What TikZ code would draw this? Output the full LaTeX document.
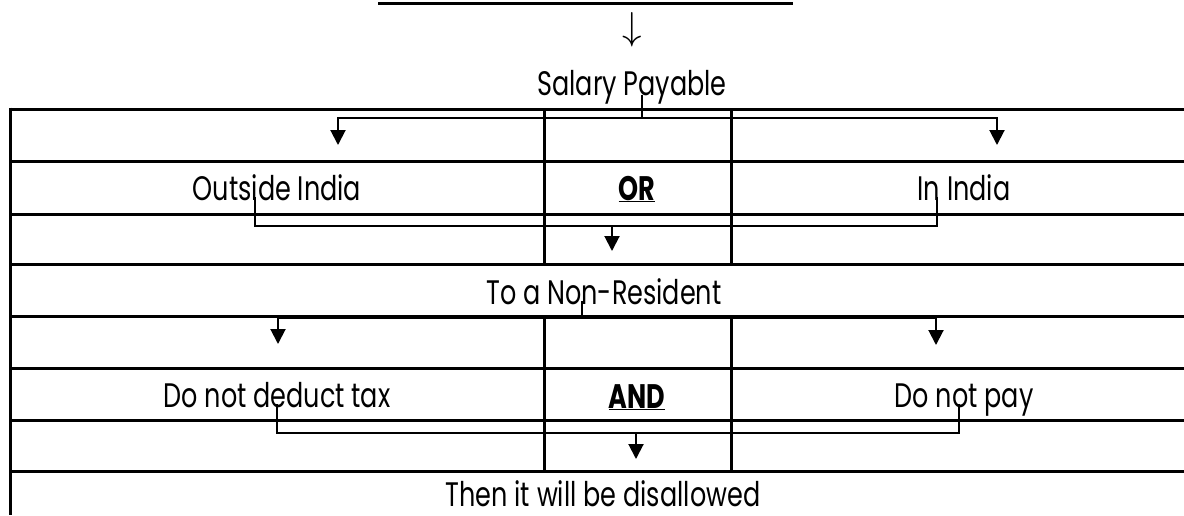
\documentclass[tikz,border=0pt]{standalone}
\usepackage{fontspec}
\setmainfont{Poppins}[FakeStretch=0.75]
\usetikzlibrary{arrows.meta,calc,positioning}

\begin{document}
\begin{tikzpicture}[x=1pt,y=-1pt,font=\fontsize{34}{36}\selectfont]
\tikzstyle{txt}=[inner sep=0pt,anchor=base]
\tikzstyle{rule}=[line width=3pt]
\tikzstyle{link}=[line width=2pt]
\tikzstyle{fork}=[link,-{Triangle[width=15pt,length=15pt]}]

\useasboundingbox (0,0) rectangle (1184,515);

\draw[rule] (378,3) -- (793,3);
\node[inner sep=0pt] (down) at (632,30) {\fontsize{10}{10}\selectfont\scalebox{3.9}{$\downarrow$}};

\draw[rule] (10,109) -- (1184,109);
\draw[rule] (10,107.5) -- (10,515);
\foreach \y in {161,214,264,316,368,420,471}
  \draw[rule] (10,\y) -- (1184,\y);
\foreach \x in {544,731} {
  \draw[rule] (\x,109) -- (\x,264);
  \draw[rule] (\x,316) -- (\x,471);
}

\node[txt] (salary) at (632,95) {Salary Payable};
\node[txt] (outside) at (277,200) {Outside India};
\node[txt] (or) at (637,200) {\bfseries\underline{OR}};
\node[txt] (inindia) at (964,200) {In India};
\node[txt] (nonres) at (604,304) {To a Non-Resident};
\node[txt] (nodeduct) at (277,407) {Do not deduct tax};
\node[txt] (and) at (637,408) {\bfseries\underline{AND}};
\node[txt] (nopay) at (964,407) {Do not pay};
\node[txt] (disallow) at (603,506) {Then it will be disallowed};

\coordinate (sal-j) at (642,118);
\coordinate (out-in) at (338,145);
\coordinate (ind-in) at (997,145);
\draw[link] (salary.base -| sal-j) -- (sal-j);
\draw[fork] (sal-j) -| (out-in);
\draw[fork] (sal-j) -| (ind-in);

\coordinate (or-j) at (612,226);
\coordinate (nr-in) at (612,251);
\draw[link] ($(outside.base)+(-22,-3)$) |- (or-j) -| ($(inindia.base)+(-27,-3)$);
\draw[fork] (or-j) -- (nr-in);

\coordinate (nr-j) at (582,318);
\coordinate (nd-in) at (278,344);
\coordinate (np-in) at (936,345);
\draw[link] ($(nonres.base)+(-22,-3)$) -- (nr-j);
\draw[fork] (nr-j) -| (nd-in);
\draw[fork] (nr-j) -| (np-in);

\coordinate (and-j) at (636,433);
\coordinate (dis-in) at (636,459);
\draw[link] ($(nodeduct.base)+(0,-3)$) |- (and-j) -| ($(nopay.base)+(-5,-3)$);
\draw[fork] (and-j) -- (dis-in);
\end{tikzpicture}
\end{document}
